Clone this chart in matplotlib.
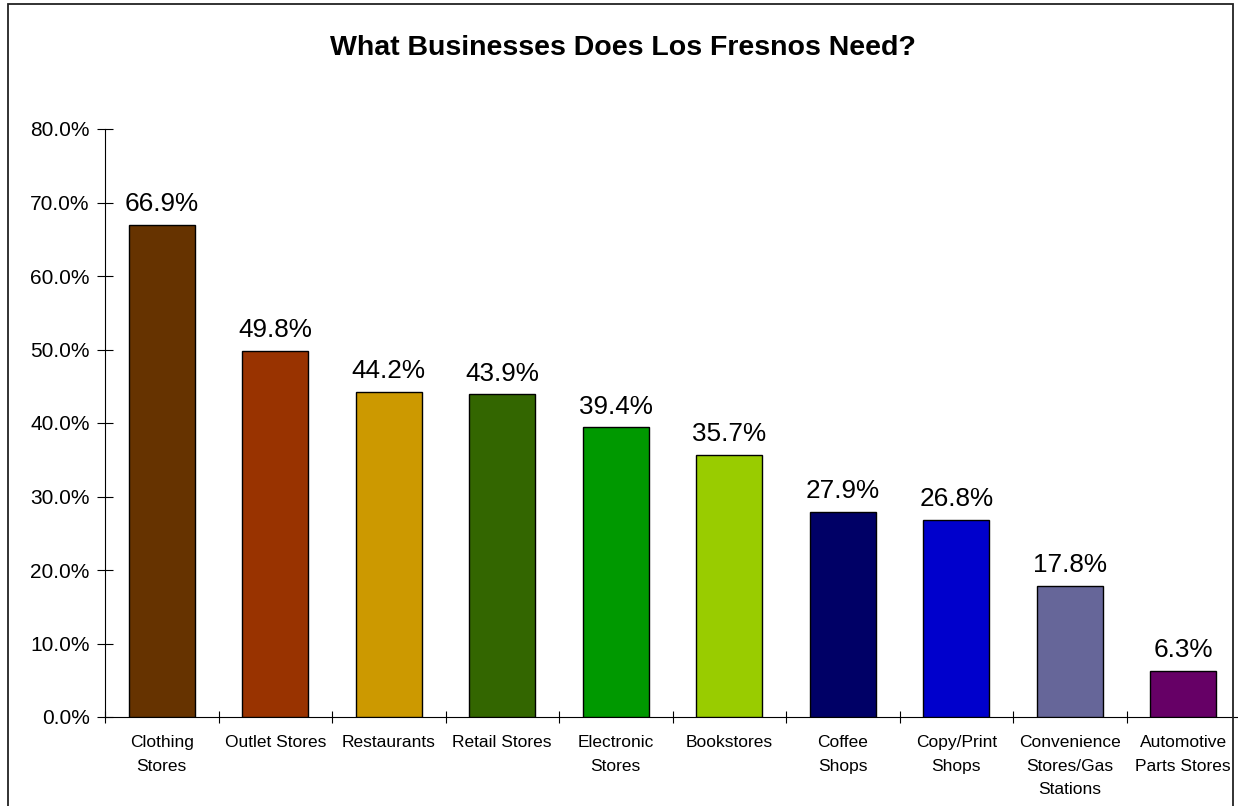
import matplotlib
matplotlib.use("Agg")
import matplotlib.pyplot as plt
from matplotlib.patches import Rectangle
from matplotlib.ticker import FuncFormatter, MultipleLocator

categories = ["Clothing\nStores", "Outlet Stores", "Restaurants", "Retail Stores",
              "Electronic\nStores", "Bookstores", "Coffee\nShops", "Copy/Print\nShops",
              "Convenience\nStores/Gas\nStations", "Automotive\nParts Stores"]
values = [66.9, 49.8, 44.2, 43.9, 39.4, 35.7, 27.9, 26.8, 17.8, 6.3]
colors = ["#663300", "#993300", "#CC9900", "#336600", "#009900",
          "#99CC00", "#000066", "#0000CC", "#666699", "#660066"]
title = "What Businesses Does Los Fresnos Need?"

plt.rcParams['font.family'] = ['Liberation Sans', 'DejaVu Sans']

W, H = 1238, 806
fig = plt.figure(figsize=(W / 100, H / 100), dpi=100)
fig.patch.set_facecolor("white")

# outer chart border (bottom edge cut off by image)
fig.patches.append(Rectangle((8 / W, -0.05), (1233 - 8) / W, 1.05 - 4 / H,
                             transform=fig.transFigure, fill=False,
                             edgecolor="#222222", linewidth=1.3))

left, right, top, bottom = 105, 1240, 129, 717
ax = fig.add_axes([left / W, (H - bottom) / H, (right - left) / W, (bottom - top) / H])

x = range(len(values))
ax.bar(x, values, width=0.58, color=colors, edgecolor="black", linewidth=1.0, zorder=3)
for xi, v in zip(x, values):
    ax.text(xi, v + 1.2, f"{v:.1f}%", ha="center", va="bottom", fontsize=18.8)

ax.set_xlim(-0.5, len(values) - 0.5)
ax.set_ylim(0, 80)
ax.yaxis.set_major_locator(MultipleLocator(10))
ax.yaxis.set_major_formatter(FuncFormatter(lambda v, p: f"{v:.1f}%"))
ax.set_xticks([i - 0.5 for i in range(len(values) + 1)])
ax.set_xticklabels([])
ax.set_xticks(list(x), minor=True)
ax.set_xticklabels(categories, minor=True, fontsize=12.5, linespacing=1.72)
ax.tick_params(axis="x", which="minor", length=0, pad=13)
ax.tick_params(axis="x", which="major", direction="inout", length=8, width=0.8)
ax.tick_params(axis="y", direction="inout", length=12, width=0.8, labelsize=15, pad=5)
for s in ["top", "right"]:
    ax.spines[s].set_visible(False)
ax.spines["left"].set_linewidth(0.8)
ax.spines["bottom"].set_linewidth(0.8)
for lab in ax.get_xticklabels(minor=True):
    lab.set_verticalalignment("top")

fig.text(623 / W, 1 - 48 / H, title, ha="center", va="center", fontsize=20.5, fontweight="bold")

fig.savefig("out.png", dpi=100, facecolor="white")
